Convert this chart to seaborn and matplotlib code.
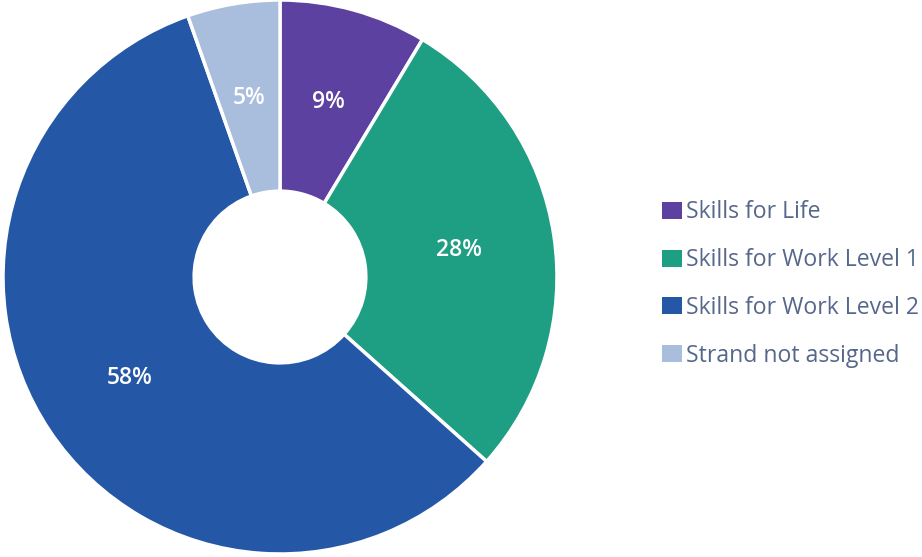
import matplotlib
matplotlib.use("Agg")
import matplotlib.pyplot as plt
import seaborn as sns
import numpy as np
from matplotlib.patches import Patch

categories = ["Skills for Life", "Skills for Work Level 1", "Skills for Work Level 2", "Strand not assigned"]
values = [8.6, 28.0, 58.0, 5.4]
labels_pct = ["9%", "28%", "58%", "5%"]
colors = ["#5C41A0", "#1E9E82", "#2458A6", "#A9BDDD"]

sns.set_theme(style="white")
plt.rcParams['font.family'] = ['Open Sans', 'DejaVu Sans']
palette = sns.color_palette(colors)

fig = plt.figure(figsize=(9.22, 5.57), dpi=100)
ax = fig.add_axes([3/922, 3/557, 554/922, 554/557])
wedges, _ = ax.pie(values, colors=palette, startangle=90, counterclock=False,
                   radius=1.0, wedgeprops=dict(width=0.69, edgecolor="white", linewidth=2.5))
for w, lab in zip(wedges, labels_pct):
    ang = np.deg2rad((w.theta1 + w.theta2) / 2)
    r = 0.655
    ax.text(r * np.cos(ang), r * np.sin(ang), lab, ha="center", va="center",
            color="white", fontsize=16.5, fontweight="semibold")
ax.set_xlim(-1, 1)
ax.set_ylim(-1, 1)
ax.set_aspect("equal")
ax.axis("off")

handles = [Patch(facecolor=c, edgecolor="none") for c in palette]
leg = fig.legend(handles, categories, loc="center left", bbox_to_anchor=(662/922, 1 - 284/557),
                 frameon=False, fontsize=16.6, labelspacing=1.03, handlelength=0.85,
                 handleheight=0.75, handletextpad=0.2, borderpad=0, borderaxespad=0,
                 labelcolor="#56678C")
fig.savefig("out.png", dpi=100)
